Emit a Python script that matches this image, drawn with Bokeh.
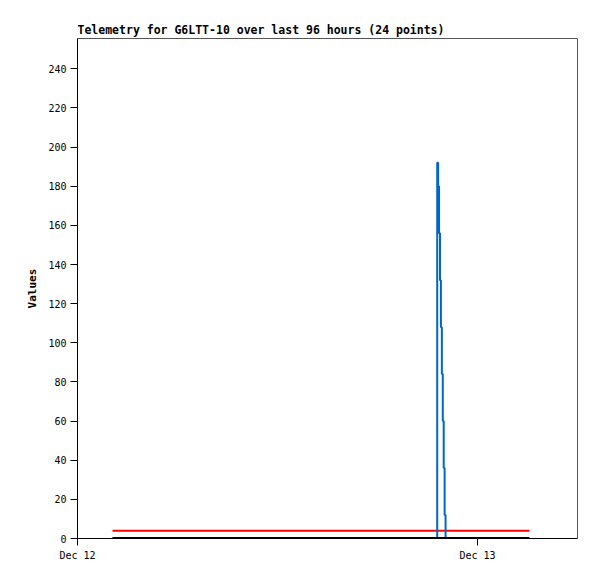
from datetime import datetime
from bokeh.plotting import figure
from bokeh.models import Range1d, FixedTicker, DatetimeTickFormatter
from bokeh.embed import file_html
from bokeh.resources import INLINE

# ---- data ----
blue_times = ["2011-12-12 02:06:00", "2011-12-12 21:35:00", "2011-12-12 21:38:20",
              "2011-12-12 21:41:40", "2011-12-12 21:45:00", "2011-12-12 21:48:20",
              "2011-12-12 21:51:40", "2011-12-12 21:55:00", "2011-12-12 21:58:20",
              "2011-12-12 22:01:40", "2011-12-12 22:05:00", "2011-12-13 03:07:00"]
blue_values = [0, 192, 180, 156, 132, 108, 84, 60, 36, 12, 0, 0]

red_times = ["2011-12-12 02:06:00", "2011-12-13 03:07:00"]
red_values = [4, 4]

black_times = ["2011-12-12 02:06:00", "2011-12-13 03:07:00"]
black_values = [0, 0]

x_tick_dates = ["2011-12-12 00:00:00", "2011-12-13 00:00:00"]
y_ticks = [0, 20, 40, 60, 80, 100, 120, 140, 160, 180, 200, 220, 240]

title_text = "Telemetry for G6LTT-10 over last 96 hours (24 points)"
y_label = "Values"

def parse(s):
    return datetime.strptime(s, "%Y-%m-%d %H:%M:%S")

def to_ms(d):
    return (d - datetime(1970, 1, 1)).total_seconds() * 1000.0

FONT = "DejaVu Sans Mono"

p = figure(width=590, height=570, output_backend="svg", toolbar_location=None,
           x_axis_type="datetime",
           x_range=Range1d(start=parse("2011-12-12 00:00:00"), end=parse("2011-12-13 06:00:00")),
           y_range=Range1d(start=0, end=255.5),
           min_border_left=77, min_border_top=38, min_border_right=13, min_border_bottom=32)

p.title.text = title_text
p.title.align = "left"
p.title.text_font = FONT
p.title.text_font_size = "11.5px"
p.title.text_font_style = "bold"
p.title.text_color = "black"
p.title.standoff = 3
p.title.offset = 0

p.xgrid.visible = False
p.ygrid.visible = False
p.outline_line_color = "#555555"
p.outline_line_width = 1
p.background_fill_color = "white"
p.border_fill_color = "white"

# lines
p.line([parse(t) for t in red_times], red_values, line_color="#ff0000", line_width=2)
p.step([parse(t) for t in blue_times], blue_values, mode="after",
       line_color="#0066cc", line_width=2)
p.line([parse(t) for t in black_times], black_values, line_color="black", line_width=3)

# x axis
xa = p.xaxis[0]
xa.ticker = FixedTicker(ticks=[to_ms(parse(t)) for t in x_tick_dates])
fmt = "%b %d"
xa.formatter = DatetimeTickFormatter(microseconds=fmt, milliseconds=fmt, seconds=fmt,
                                     minsec=fmt, minutes=fmt, hourmin=fmt, hours=fmt,
                                     days=fmt, months=fmt, years=fmt)
xa.minor_tick_line_color = None
xa.major_tick_out = 7
xa.major_tick_in = 0
xa.major_label_standoff = 4
xa.major_label_text_font = FONT
xa.major_label_text_font_size = "10px"
xa.major_label_text_color = "black"
xa.axis_line_color = "black"
xa.major_tick_line_color = "black"

# y axis
ya = p.yaxis[0]
ya.ticker = FixedTicker(ticks=y_ticks)
ya.minor_tick_line_color = None
ya.major_tick_out = 7
ya.major_tick_in = 0
ya.major_label_standoff = 4
ya.major_label_text_font = FONT
ya.major_label_text_font_size = "10px"
ya.major_label_text_color = "black"
ya.axis_line_color = "black"
ya.major_tick_line_color = "black"
ya.axis_label = y_label
ya.axis_label_text_font = FONT
ya.axis_label_text_font_size = "11px"
ya.axis_label_text_font_style = "bold"
ya.axis_label_text_color = "black"
ya.axis_label_standoff = 6

open("out.html", "w").write(file_html(p, INLINE))
